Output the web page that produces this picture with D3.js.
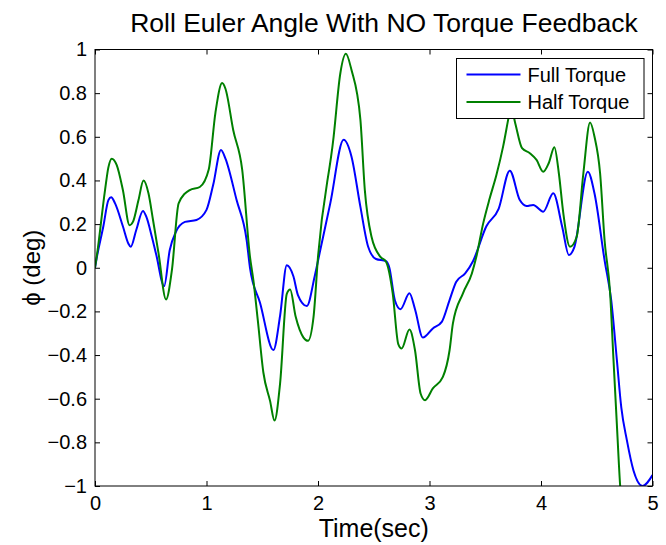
<!DOCTYPE html>
<html>
<head>
<meta charset="utf-8">
<script src="https://cdn.jsdelivr.net/npm/d3@7"></script>
<style>
  body { margin: 0; background: #fff; }
  text { font-family: "Liberation Sans", Arial, sans-serif; fill: #000; }
</style>
</head>
<body>
<div class="chart"></div>
<script>
// データ (値は図から読み取り)
const timeFull = [0, 0.015, 0.075, 0.12, 0.145, 0.18, 0.25, 0.30, 0.32, 0.37, 0.43, 0.46, 0.51, 0.55, 0.62, 0.67,
  0.726, 0.807, 0.91, 1.0, 1.06, 1.13, 1.17, 1.27, 1.36, 1.39, 1.48, 1.6, 1.66, 1.72, 1.78, 1.82, 1.9, 1.97,
  2.02, 2.11, 2.23, 2.30, 2.38, 2.45, 2.52, 2.61, 2.64, 2.69, 2.74, 2.82, 2.87, 2.94, 3.03, 3.11, 3.18, 3.24,
  3.32, 3.39, 3.51, 3.62, 3.72, 3.81, 3.87, 3.93, 4.02, 4.11, 4.19, 4.25, 4.30, 4.42, 4.48, 4.57, 4.63, 4.68,
  4.72, 4.77, 4.83, 4.91, 5.0];
const rollFull = [0, 0.044, 0.19, 0.31, 0.323, 0.295, 0.19, 0.11, 0.096, 0.173, 0.26, 0.234, 0.142, 0.058, -0.084, 0.08,
  0.165, 0.21, 0.219, 0.265, 0.38, 0.54, 0.50, 0.31, 0.127, 0.0, -0.16, -0.377, -0.22, 0.012, -0.04, -0.125, -0.175, -0.04,
  0.08, 0.295, 0.586, 0.51, 0.28, 0.096, 0.04, 0.03, 0.0, -0.15, -0.19, -0.117, -0.19, -0.32, -0.278, -0.248, -0.148, -0.064,
  -0.026, 0.03, 0.19, 0.27, 0.445, 0.31, 0.283, 0.288, 0.257, 0.341, 0.188, 0.058, 0.096, 0.44, 0.34, 0.035, -0.15, -0.42,
  -0.64, -0.79, -0.93, -1.0, -0.95];

const timeHalf = [0, 0.015, 0.09, 0.12, 0.15, 0.195, 0.25, 0.31, 0.34, 0.39, 0.435, 0.48, 0.52, 0.57, 0.637, 0.69,
  0.75, 0.85, 0.94, 1.02, 1.08, 1.14, 1.17, 1.24, 1.32, 1.39, 1.42, 1.46, 1.51, 1.57, 1.61, 1.66, 1.72, 1.75, 1.80,
  1.87, 1.91, 1.96, 2.0, 2.14, 2.20, 2.25, 2.30, 2.38, 2.42, 2.48, 2.56, 2.61, 2.67, 2.72, 2.75, 2.82, 2.87, 2.92,
  2.96, 3.03, 3.12, 3.18, 3.21, 3.30, 3.38, 3.42, 3.48, 3.54, 3.60, 3.66, 3.71, 3.73, 3.77, 3.83, 3.90, 3.96, 4.02,
  4.07, 4.12, 4.16, 4.20, 4.26, 4.32, 4.38, 4.44, 4.48, 4.53, 4.57, 4.62, 4.65, 4.68, 4.71, 4.75];
const rollHalf = [0, 0.05, 0.356, 0.46, 0.50, 0.47, 0.356, 0.195, 0.21, 0.31, 0.40, 0.34, 0.22, 0.066, -0.145, -0.01,
  0.295, 0.356, 0.37, 0.45, 0.71, 0.846, 0.82, 0.63, 0.45, 0.05, -0.056, -0.24, -0.48, -0.61, -0.70, -0.53, -0.12, -0.10, -0.225,
  -0.32, -0.335, -0.225, 0.05, 0.60, 0.89, 0.98, 0.907, 0.68, 0.356, 0.142, 0.05, 0.028, -0.117, -0.35, -0.37, -0.283, -0.378, -0.576,
  -0.607, -0.553, -0.50, -0.378, -0.255, -0.117, -0.026, 0.05, 0.20, 0.318, 0.425, 0.555, 0.69, 0.74, 0.66, 0.548, 0.525, 0.494, 0.44,
  0.48, 0.552, 0.433, 0.25, 0.096, 0.142, 0.433, 0.665, 0.60, 0.433, 0.127, -0.117, -0.42, -0.714, -1.0, -1.2];

const seriesNames = ["Full Torque", "Half Torque"];
const seriesColors = ["#0000ff", "#008000"];
const xTicks = [0, 1, 2, 3, 4, 5];
const yTicks = [-1, -0.8, -0.6, -0.4, -0.2, 0, 0.2, 0.4, 0.6, 0.8, 1];

// サイズとマージン
const W = 666, H = 545;
const margin = { top: 49.5, right: 13.5, bottom: 59, left: 95 };
const width = W - margin.left - margin.right;
const height = H - margin.top - margin.bottom;

const svg = d3.select(".chart").append("svg")
  .attr("width", W).attr("height", H);

const g = svg.append("g").attr("transform", `translate(${margin.left},${margin.top})`);

const x = d3.scaleLinear().domain([0, 5]).range([0, width]);
const y = d3.scaleLinear().domain([-1, 1]).range([height, 0]);

// クリップ
svg.append("defs").append("clipPath").attr("id", "clip")
  .append("rect").attr("width", width).attr("height", height);

const series = [
  { name: seriesNames[0], color: seriesColors[0], t: timeFull, v: rollFull },
  { name: seriesNames[1], color: seriesColors[1], t: timeHalf, v: rollHalf }
];

const line = d3.line().x(d => x(d[0])).y(d => y(d[1])).curve(d3.curveMonotoneX);

g.append("g").attr("clip-path", "url(#clip)")
  .selectAll("path").data(series).enter().append("path")
  .attr("d", s => line(s.t.map((t, i) => [t, s.v[i]])))
  .attr("fill", "none")
  .attr("stroke", s => s.color)
  .attr("stroke-width", 2);

// 軸 (MATLAB風: 内向きの目盛り、四辺)
const fmt = d => (Math.abs(d) < 1e-9 ? "0" : d3.format("")(+d.toFixed(1)));
const tickLen = 5;

const axB = g.append("g").attr("transform", `translate(0,${height})`)
  .call(d3.axisBottom(x).tickValues(xTicks).tickSize(-tickLen).tickPadding(10).tickFormat(fmt));
const axT = g.append("g")
  .call(d3.axisTop(x).tickValues(xTicks).tickSize(-tickLen).tickFormat(""));
const axL = g.append("g")
  .call(d3.axisLeft(y).tickValues(yTicks).tickSize(-tickLen).tickPadding(8).tickFormat(fmt));
const axR = g.append("g").attr("transform", `translate(${width},0)`)
  .call(d3.axisRight(y).tickValues(yTicks).tickSize(-tickLen).tickFormat(""));

[axB, axT, axL, axR].forEach(a => {
  a.select(".domain").remove();
  a.selectAll("line").attr("stroke", "#000");
  a.selectAll("text").style("font-size", "20px").attr("fill", "#000");
});
axB.selectAll("text").attr("dy", "0.71em");

g.append("rect").attr("width", width).attr("height", height)
  .attr("fill", "none").attr("stroke", "#000").attr("stroke-width", 1);

// タイトルとラベル
svg.append("text").attr("x", 384).attr("y", 32)
  .attr("text-anchor", "middle").style("font-size", "26.5px")
  .text("Roll Euler Angle With NO Torque Feedback");

svg.append("text").attr("x", margin.left + width / 2).attr("y", 537)
  .attr("text-anchor", "middle").style("font-size", "25px")
  .text("Time(sec)");

svg.append("text").attr("transform", `translate(40,${margin.top + height / 2}) rotate(-90)`)
  .attr("text-anchor", "middle").style("font-size", "24px")
  .text("\u03d5 (deg)");

// 凡例
const lg = svg.append("g").attr("transform", "translate(456.5,58.5)");
lg.append("rect").attr("width", 187.5).attr("height", 60)
  .attr("fill", "#fff").attr("stroke", "#000").attr("stroke-width", 1);
series.forEach((s, i) => {
  const yy = 16 + i * 27.5;
  lg.append("line").attr("x1", 10).attr("x2", 64).attr("y1", yy).attr("y2", yy)
    .attr("stroke", s.color).attr("stroke-width", 2);
  lg.append("text").attr("x", 71).attr("y", yy).attr("dy", "0.35em")
    .style("font-size", "20px").text(s.name);
});
</script>
</body>
</html>
